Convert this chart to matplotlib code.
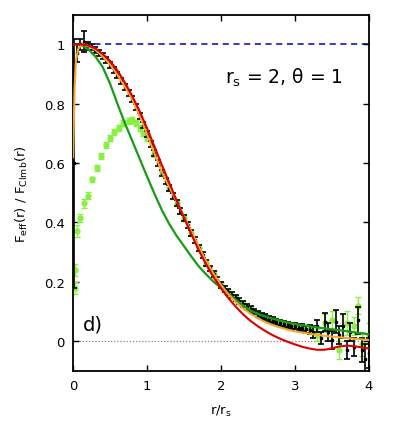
import matplotlib
matplotlib.use("Agg")
import matplotlib.pyplot as plt

# ===========================
# DATA
# ===========================
# black simulation points with error bars
blk_x = [0.01, 0.05, 0.10, 0.15, 0.20, 0.25, 0.30, 0.35, 0.40, 0.45, 0.50, 0.55, 0.60,
         0.65, 0.70, 0.75, 0.80, 0.85, 0.90, 0.95, 1.00, 1.05, 1.10, 1.15, 1.20, 1.25,
         1.30, 1.35, 1.40, 1.45, 1.50, 1.55, 1.60, 1.65, 1.70, 1.75, 1.80, 1.85, 1.90,
         1.95, 2.00, 2.05, 2.10, 2.15, 2.20, 2.25, 2.30, 2.35, 2.40, 2.45, 2.50, 2.55,
         2.60, 2.65, 2.70, 2.75, 2.80, 2.85, 2.90, 2.95, 3.00, 3.05, 3.10, 3.15, 3.20,
         3.25, 3.30, 3.35, 3.40, 3.45, 3.50, 3.55, 3.60, 3.65, 3.70, 3.75, 3.80, 3.85,
         3.90, 3.95, 4.00]
blk_y = [0.60, 0.97, 1.00, 1.01, 0.995, 0.99, 0.982, 0.972, 0.96, 0.947, 0.932, 0.915, 0.897,
         0.878, 0.858, 0.837, 0.815, 0.79, 0.76, 0.728, 0.697, 0.666, 0.633, 0.6, 0.568, 0.54,
         0.515, 0.49, 0.465, 0.44, 0.415, 0.39, 0.365, 0.34, 0.315, 0.29, 0.265, 0.245, 0.225,
         0.205, 0.19, 0.175, 0.165, 0.155, 0.145, 0.135, 0.125, 0.115, 0.108, 0.10, 0.093, 0.086,
         0.08, 0.074, 0.07, 0.066, 0.062, 0.058, 0.055, 0.052, 0.05, 0.046, 0.045, 0.04, 0.038,
         0.03, 0.05, 0.01, 0.064, 0.03, 0.005, 0.066, 0.02, 0.05, -0.03, 0.03, -0.02, 0.07,
         -0.03, -0.06, -0.04]
blk_e = [0.42, 0.03, 0.02, 0.035, 0.015, 0.01, 0.01, 0.01, 0.01, 0.01, 0.01, 0.01, 0.01,
         0.01, 0.01, 0.01, 0.01, 0.01, 0.01, 0.01, 0.01, 0.01, 0.01, 0.01, 0.01, 0.01,
         0.01, 0.01, 0.01, 0.01, 0.01, 0.01, 0.01, 0.01, 0.01, 0.01, 0.01, 0.01, 0.01,
         0.01, 0.01, 0.01, 0.01, 0.01, 0.01, 0.01, 0.01, 0.01, 0.01, 0.01, 0.01, 0.01,
         0.01, 0.01, 0.01, 0.01, 0.01, 0.01, 0.01, 0.01, 0.01, 0.012, 0.012, 0.012, 0.015,
         0.02, 0.02, 0.02, 0.03, 0.03, 0.03, 0.04, 0.03, 0.04, 0.03, 0.03, 0.03, 0.045,
         0.04, 0.05, 0.05]

# light green simulation points with error bars
lg_x = [0.02, 0.03, 0.05, 0.09, 0.15, 0.20, 0.26, 0.32, 0.38, 0.44, 0.50, 0.56, 0.62,
        0.68, 0.75, 0.80, 0.85, 0.90, 0.95, 1.00, 1.10, 1.20, 1.30, 1.40, 1.50, 1.60,
        1.70, 1.80, 1.90, 2.00, 2.10, 2.20, 2.30, 2.40, 2.50, 2.60, 2.70, 2.80, 2.90,
        3.00, 3.10, 3.20, 3.30, 3.40, 3.50, 3.60, 3.70, 3.80, 3.85, 3.90, 4.00]
lg_y = [0.18, 0.24, 0.37, 0.415, 0.465, 0.49, 0.545, 0.585, 0.625, 0.66, 0.685, 0.705, 0.72,
        0.735, 0.742, 0.745, 0.735, 0.72, 0.70, 0.685, 0.63, 0.57, 0.515, 0.465, 0.415, 0.365,
        0.315, 0.265, 0.225, 0.19, 0.165, 0.145, 0.125, 0.108, 0.093, 0.08, 0.07, 0.062, 0.055,
        0.05, 0.045, 0.04, 0.02, 0.06, 0.07, -0.03, 0.06, 0.05, 0.12, -0.01, 0.02]
lg_e = [0.02, 0.02, 0.02, 0.015, 0.015, 0.012, 0.01, 0.01, 0.01, 0.01, 0.01, 0.01, 0.01,
        0.01, 0.01, 0.01, 0.01, 0.01, 0.01, 0.01, 0.01, 0.01, 0.01, 0.01, 0.01, 0.01,
        0.01, 0.01, 0.01, 0.01, 0.01, 0.01, 0.01, 0.01, 0.01, 0.01, 0.01, 0.01, 0.01,
        0.01, 0.012, 0.015, 0.02, 0.03, 0.03, 0.03, 0.04, 0.03, 0.03, 0.04, 0.04]

# orange curve
or_x = [0.0, 0.02, 0.04, 0.07, 0.10, 0.15, 0.2, 0.3, 0.4, 0.5, 0.6, 0.7, 0.8, 0.9, 1.0,
        1.1, 1.2, 1.3, 1.4, 1.5, 1.6, 1.7, 1.8, 1.9, 2.0, 2.1, 2.2, 2.3, 2.4, 2.5, 2.6,
        2.7, 2.8, 2.9, 3.0, 3.2, 3.4, 3.6, 3.8, 4.0]
or_y = [0.62, 0.85, 0.95, 0.985, 0.995, 1.0, 0.995, 0.982, 0.96, 0.932, 0.897, 0.858, 0.815,
        0.76, 0.697, 0.633, 0.57, 0.52, 0.47, 0.42, 0.37, 0.318, 0.27, 0.228, 0.19, 0.158,
        0.132, 0.11, 0.092, 0.077, 0.064, 0.054, 0.046, 0.039, 0.033, 0.025, 0.018, 0.013,
        0.008, 0.004]

# red curve
red_x = [0.0, 0.1, 0.2, 0.3, 0.4, 0.5, 0.6, 0.7, 0.8, 0.9, 1.0, 1.1, 1.2, 1.3, 1.4, 1.5,
         1.6, 1.7, 1.8, 1.9, 2.0, 2.1, 2.2, 2.3, 2.4, 2.5, 2.6, 2.7, 2.8, 2.9, 3.0, 3.1,
         3.2, 3.3, 3.4, 3.5, 3.6, 3.7, 3.8, 3.9, 4.0]
red_y = [1.0, 1.0, 0.997, 0.987, 0.968, 0.945, 0.912, 0.872, 0.826, 0.775, 0.718, 0.656, 0.594,
         0.534, 0.474, 0.416, 0.36, 0.306, 0.258, 0.215, 0.178, 0.145, 0.116, 0.09, 0.068,
         0.05, 0.034, 0.02, 0.008, -0.002, -0.011, -0.019, -0.025, -0.029, -0.029, -0.024,
         -0.018, -0.015, -0.017, -0.021, -0.025]

# dark green curve
gr_x = [0.0, 0.1, 0.2, 0.3, 0.4, 0.5, 0.6, 0.7, 0.8, 0.9, 1.0, 1.1, 1.2, 1.3, 1.4, 1.5,
        1.6, 1.7, 1.8, 1.9, 2.0, 2.1, 2.2, 2.3, 2.4, 2.5, 2.6, 2.7, 2.8, 2.9, 3.0, 3.2,
        3.4, 3.6, 3.8, 4.0]
gr_y = [1.0, 1.0, 0.985, 0.96, 0.924, 0.868, 0.80, 0.735, 0.675, 0.615, 0.555, 0.497, 0.442,
        0.395, 0.355, 0.32, 0.285, 0.252, 0.225, 0.2, 0.18, 0.16, 0.14, 0.12, 0.103, 0.092,
        0.083, 0.076, 0.069, 0.063, 0.058, 0.05, 0.043, 0.037, 0.03, 0.023]

XTICKS = [0, 1, 2, 3, 4]
YTICKS = [0, 0.2, 0.4, 0.6, 0.8, 1]


def main():
    fig = plt.figure(figsize=(3.95, 4.39), dpi=100)
    ax = fig.add_axes([0.185, 0.153, 0.749, 0.811])

    # reference levels
    ax.axhline(1.0, color="#0000cc", linestyle=(0, (4, 3)), linewidth=1.1, zorder=1)
    ax.axhline(0.0, color="#888888", linestyle=(0, (1, 1.5)), linewidth=0.9, zorder=1)

    # point sets
    ax.errorbar(lg_x, lg_y, yerr=lg_e, fmt="o", color="#88f040", ms=3.5,
                elinewidth=1.0, capsize=2.5, capthick=1.0, zorder=2)
    ax.errorbar(blk_x, blk_y, yerr=blk_e, fmt="s", color="black", ms=1.5,
                elinewidth=1.2, capsize=2.5, capthick=1.2, zorder=3)

    # curves
    ax.plot(gr_x, gr_y, color="#169c16", linewidth=1.6, zorder=4)
    ax.plot(or_x, or_y, color="#f5a830", linewidth=1.5, zorder=4)
    ax.plot(red_x, red_y, color="#dd0000", linewidth=1.5, zorder=5)

    ax.text(2.05, 0.89, r"$\mathregular{r_s}$ = 2, θ = 1", fontsize=13.5, va="center")
    ax.text(0.13, 0.057, "d)", fontsize=14, va="center")

    ax.set_xlim(0, 4)
    ax.set_ylim(-0.1, 1.1)
    ax.set_xticks(XTICKS)
    ax.set_yticks(YTICKS)
    ax.set_yticklabels(["0", "0.2", "0.4", "0.6", "0.8", "1"])
    ax.tick_params(direction="in", top=True, right=True, length=4, width=1,
                   labelsize=9.5, pad=6)
    for sp in ax.spines.values():
        sp.set_linewidth(1.3)

    ax.set_xlabel(r"$\mathregular{r/r_s}$", fontsize=9.5, labelpad=8)
    ax.set_ylabel(r"$\mathregular{F_{eff}(r)\ /\ F_{Clmb}(r)}$", fontsize=9.5, labelpad=10)

    fig.savefig("out.png", dpi=100)


if __name__ == "__main__":
    main()
